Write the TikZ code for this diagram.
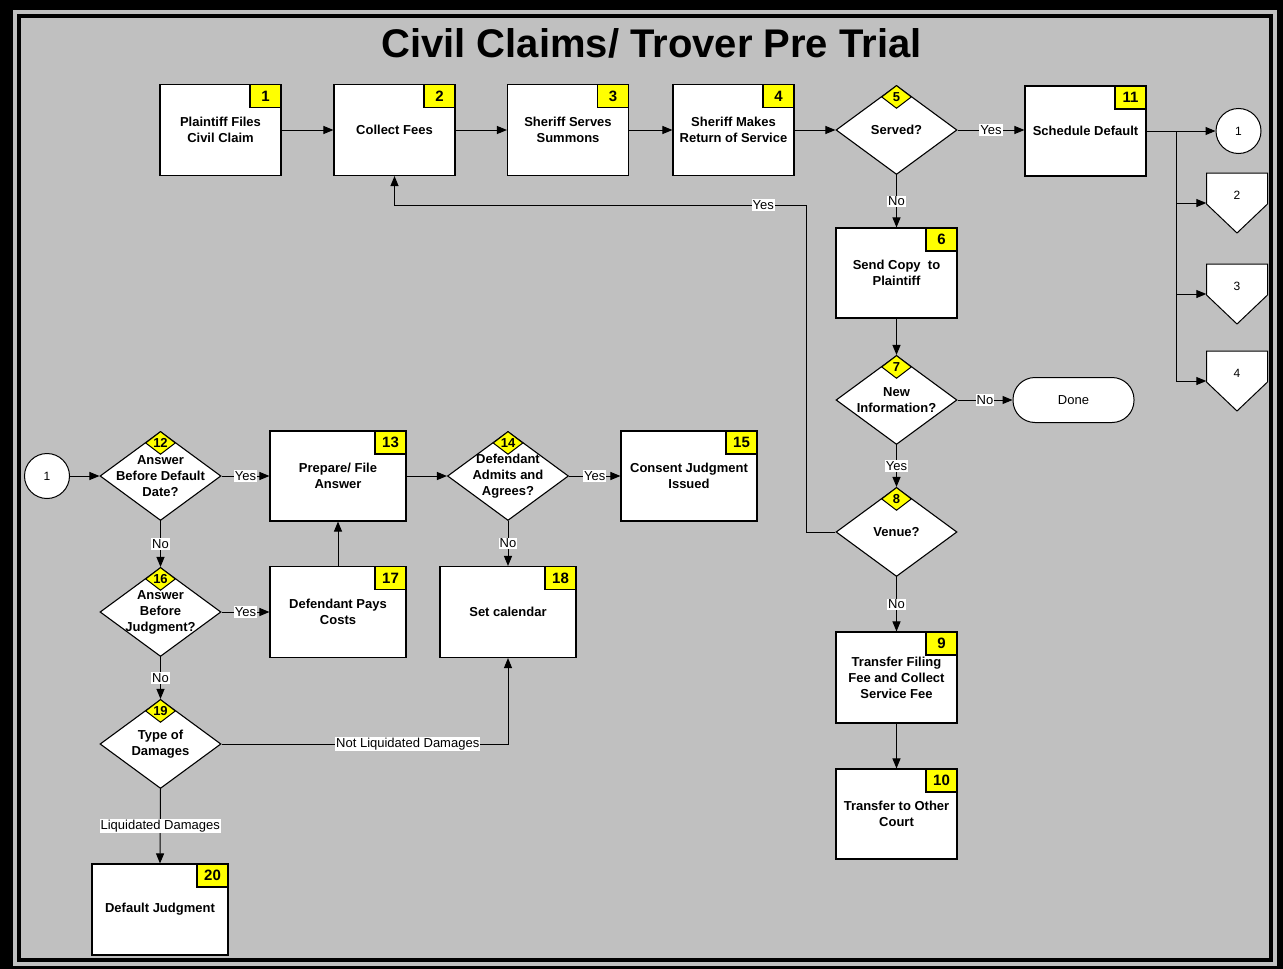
\documentclass[tikz,border=0pt]{standalone}
\usepackage{fontspec}
\setmainfont{Liberation Sans}
\usetikzlibrary{shapes.geometric,arrows.meta}
\definecolor{panel}{RGB}{192,192,192}
\definecolor{tagyellow}{RGB}{255,255,0}

\begin{document}
\begin{tikzpicture}[x=1pt,y=-1pt,
    >={Triangle[length=10pt,width=8pt]},
    box/.style={draw,fill=white,line width=1.1pt,minimum width=121pt,minimum height=91pt,inner sep=0pt,align=center,font=\fontsize{13}{16}\selectfont\bfseries},
    wbox/.style={box,minimum width=136pt},
    dec/.style={diamond,draw,fill=white,line width=1.1pt,minimum width=121pt,minimum height=89pt,inner sep=0pt,label={[align=center,font=\fontsize{13}{16}\selectfont\bfseries]center:#1}},
    tag/.style={draw,fill=tagyellow,line width=1.1pt,minimum width=31pt,minimum height=23pt,inner sep=0pt,anchor=north east,font=\fontsize{15}{18}\selectfont\bfseries},
    dtag/.style={diamond,draw,fill=tagyellow,line width=1pt,minimum width=30pt,minimum height=23pt,inner sep=0pt,anchor=north,label={[font=\fontsize{13}{16}\selectfont\bfseries]center:#1}},
    conn/.style={circle,draw,fill=white,line width=1pt,minimum size=45pt,inner sep=0pt,font=\fontsize{12}{14}\selectfont},
    off/.style={minimum width=61pt,minimum height=44pt,inner sep=0pt,font=\fontsize{12}{14}\selectfont},
    term/.style={draw,fill=white,line width=1pt,rounded corners=22pt,minimum width=121pt,minimum height=45pt,font=\fontsize{13}{16}\selectfont},
    lbl/.style={fill=white,inner sep=1pt,font=\fontsize{13}{15}\selectfont},
    flow/.style={->,line width=1pt}]
      \useasboundingbox (0,0) rectangle (1283,969);
      \fill (0,0) rectangle (1283,969);
      \fill[panel] (13,10) rectangle (1277,966);
      \fill (17,14) rectangle (1273,962);
      \fill[panel] (21,18) rectangle (1269,958);
      \node[anchor=base,font=\fontsize{40}{48}\selectfont\bfseries] (title) at (651.5,57) {Civil Claims/ Trover Pre Trial};

      \node[box] (b1) at (220.5,130) {Plaintiff Files\\Civil Claim};
      \node[box] (b2) at (394.5,130) {Collect Fees};
      \node[box] (b3) at (568,130) {Sheriff Serves\\Summons};
      \node[box] (b4) at (733.5,130) {Sheriff Makes\\Return of Service};
      \node[dec={Served?}] (d5) at (896.5,130) {};
      \node[box,minimum height=90pt] (b11) at (1085.5,131) {Schedule Default};
      \node[conn] (c1r) at (1238.5,131) {1};
      \draw[line width=1pt,fill=white] (1206.5,173) -- ++(61,0) -- ++(0,31) -- ++(-30.5,29) -- ++(-30.5,-29) -- cycle;
      \node[off] (p2) at (1237,195) {2};
      \draw[line width=1pt,fill=white] (1206.5,264) -- ++(61,0) -- ++(0,31) -- ++(-30.5,29) -- ++(-30.5,-29) -- cycle;
      \node[off] (p3) at (1237,286) {3};
      \draw[line width=1pt,fill=white] (1206.5,351) -- ++(61,0) -- ++(0,31) -- ++(-30.5,29) -- ++(-30.5,-29) -- cycle;
      \node[off] (p4) at (1237,373) {4};

      \node[box,minimum height=90pt] (b6) at (896.5,273) {Send Copy\ \ to\\Plaintiff};
      \node[dec={New\\Information?}] (d7) at (896.5,400) {};
      \node[term] (done) at (1073.5,400) {Done};
      \node[dec={Venue?}] (d8) at (896.5,532) {};
      \node[box] (b9) at (896.5,677.5) {Transfer Filing\\Fee and Collect\\Service Fee};
      \node[box,minimum height=90pt] (b10) at (896.5,814) {Transfer to Other\\Court};

      \node[conn] (c1l) at (47,476) {1};
      \node[dec={Answer\\Before Default\\Date?}] (d12) at (160.5,476) {};
      \node[wbox,minimum height=90pt] (b13) at (338,476) {Prepare/ File\\Answer};
      \node[dec={Defendant\\Admits and\\Agrees?}] (d14) at (508,476) {};
      \node[wbox,minimum height=90pt] (b15) at (689,476) {Consent Judgment\\Issued};
      \node[dec={Answer\\Before\\Judgment?}] (d16) at (160.5,612) {};
      \node[wbox] (b17) at (338,612) {Defendant Pays\\Costs};
      \node[wbox] (b18) at (508,612) {Set calendar};
      \node[dec={Type of\\Damages}] (d19) at (160.5,744) {};
      \node[wbox] (b20) at (160,909.5) {Default Judgment};

      \node[tag] (t1) at (b1.north east) {1};
      \node[tag] (t2) at (b2.north east) {2};
      \node[tag] (t3) at (b3.north east) {3};
      \node[tag] (t4) at (b4.north east) {4};
      \node[dtag=5] (t5) at (d5.north) {};
      \node[tag] (t6) at (b6.north east) {6};
      \node[dtag=7] (t7) at (d7.north) {};
      \node[dtag=8] (t8) at (d8.north) {};
      \node[tag] (t9) at (b9.north east) {9};
      \node[tag] (t10) at (b10.north east) {10};
      \node[tag] (t11) at (b11.north east) {11};
      \node[dtag=12] (t12) at (d12.north) {};
      \node[tag] (t13) at (b13.north east) {13};
      \node[dtag=14] (t14) at (d14.north) {};
      \node[tag] (t15) at (b15.north east) {15};
      \node[dtag=16] (t16) at (d16.north) {};
      \node[tag] (t17) at (b17.north east) {17};
      \node[tag] (t18) at (b18.north east) {18};
      \node[dtag=19] (t19) at (d19.north) {};
      \node[tag] (t20) at (b20.north east) {20};

      \draw[flow] (b1.east) -- (b2.west);
      \draw[flow] (b2.east) -- (b3.west);
      \draw[flow] (b3.east) -- (b4.west);
      \draw[flow] (b4.east) -- (d5.west);
      \draw[flow] (d5.east) -- node[lbl]{Yes} (d5.east -| b11.west);
      \coordinate (br) at (1176,131);
      \draw[line width=1pt] (b11.east) -- (br);
      \draw[flow] (br) -- (c1r.west);
      \draw[flow] (br) |- ([yshift=-8pt]p2.west);
      \draw[flow] (br) |- ([yshift=-8pt]p3.west);
      \draw[flow] (br) |- ([yshift=-8pt]p4.west);
      \draw[flow] (d5.south) -- node[lbl]{No} (b6.north);
      \draw[flow] (b6.south) -- (d7.north);
      \draw[flow] (d7.east) -- node[lbl]{No} (done.west);
      \draw[flow] (d7.south) -- node[lbl]{Yes} (d8.north);
      \coordinate (vb) at (806,205);
      \draw[flow] (d8.west) -| (vb) -| node[lbl,pos=0.052]{Yes} (b2.south);
      \draw[flow] (d8.south) -- node[lbl]{No} (b9.north);
      \draw[flow] (b9.south) -- (b10.north);

      \draw[flow] (c1l.east) -- (d12.west);
      \draw[flow] (d12.east) -- node[lbl]{Yes} (b13.west);
      \draw[flow] (d12.south) -- node[lbl]{No} (d16.north);
      \draw[flow] (d16.east) -- node[lbl]{Yes} (b17.west);
      \draw[flow] (b17.north) -- (b13.south);
      \draw[flow] (d16.south) -- node[lbl]{No} (d19.north);
      \draw[flow] (b13.east) -- (d14.west);
      \draw[flow] (d14.east) -- node[lbl]{Yes} (b15.west);
      \draw[flow] (d14.south) -- node[lbl]{No} (b18.north);
      \draw[flow] (d19.east) -| node[lbl,pos=0.325]{Not Liquidated Damages} (b18.south);
      \draw[flow] (d19.south) -- node[lbl]{Liquidated Damages} (b20.north);
    \end{tikzpicture}
\end{document}
